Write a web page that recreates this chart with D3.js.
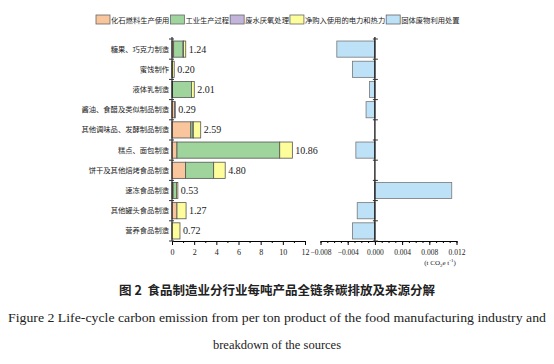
<!DOCTYPE html>
<html>
<head>
<meta charset="utf-8">
<script src="https://cdn.jsdelivr.net/npm/d3@7"></script>
<style>
body { margin: 0; background: #fff; }
svg text { fill: #222; }
.cn { font-family: "Noto Sans CJK SC", sans-serif; }
.en { font-family: "Liberation Serif", "DejaVu Serif", serif; }
</style>
</head>
<body>
<svg width="554" height="364"></svg>
<script>
// data
const categories = ["糖果、巧克力制造", "蜜饯制作", "液体乳制造", "酱油、食醋及类似制品制造", "其他调味品、发酵制品制造",
  "糕点、面包制造", "饼干及其他焙烤食品制造", "速冻食品制造", "其他罐头食品制造", "营养食品制造"];
const fossil  = [0.15, 0.02, 0.05, 0.25, 1.70, 0.45, 1.23, 0.10, 0.45, 0.00];
const process = [0.85, 0.00, 1.70, 0.00, 0.20, 9.27, 2.53, 0.30, 0.00, 0.00];
const wastewater = [0.04, 0.00, 0.00, 0.04, 0.02, 0.00, 0.00, 0.00, 0.00, 0.00];
const power   = [0.20, 0.18, 0.26, 0.00, 0.67, 1.14, 1.04, 0.13, 0.82, 0.72];
const solid   = [-0.0056, -0.0033, -0.0008, -0.0013, 0, -0.0028, 0, 0.0113, -0.0026, -0.0033];
const totals  = ["1.24", "0.20", "2.01", "0.29", "2.59", "10.86", "4.80", "0.53", "1.27", "0.72"];
const leftTicks = [0, 2, 4, 6, 8, 10, 12];
const rightTicks = [-0.008, -0.004, 0, 0.004, 0.008, 0.012];
const legendNames = ["化石燃料生产使用", "工业生产过程", "废水厌氧处理", "净购入使用的电力和热力", "固体废物利用处置"];
const colors = ["#f9c59c", "#9fd59d", "#c3b4dc", "#fdfd9b", "#bde2f8"];

const svg = d3.select("svg");
const plotTop = 39, plotBottom = 241;

let y = d3.scaleBand().domain(categories).range([plotTop, plotBottom]).paddingInner(0.2).paddingOuter(0.1);
let x1 = d3.scaleLinear().domain([0, 12]).range([172, 305]);
let x2 = d3.scaleLinear().domain([-0.008, 0.012]).range([320.5, 456.5]);

// stacked bars
const series = [fossil, process, wastewater, power];
categories.forEach((c, i) => {
  let acc = 0;
  series.forEach((s, k) => {
    if (s[i] > 0) {
      svg.append("rect")
        .attr("x", x1(acc)).attr("width", x1(acc + s[i]) - x1(acc))
        .attr("y", y(c)).attr("height", y.bandwidth())
        .attr("fill", colors[k]).attr("stroke", "#555").attr("stroke-width", 0.8);
    }
    acc += s[i];
  });
  svg.append("text").attr("class", "en")
    .attr("x", x1(acc) + 3).attr("y", y(c) + y.bandwidth() / 2 + 3.5)
    .attr("font-size", 10).text(totals[i]);
});

// left axes
svg.append("g").attr("transform", "translate(0," + plotBottom + ")")
  .call(d3.axisBottom(x1).tickValues(leftTicks).tickSize(4).tickSizeOuter(0))
  .call(g => g.selectAll("text").attr("class", "en").attr("font-size", 8).attr("dy", "0.9em"));
svg.append("g").attr("transform", "translate(0," + plotBottom + ")")
  .call(d3.axisBottom(x1).tickValues(d3.range(1, 12, 2)).tickSize(2).tickFormat(""))
  .call(g => g.select(".domain").remove());
svg.append("line").attr("x1", x1(0)).attr("x2", x1(0)).attr("y1", plotTop - 2).attr("y2", plotBottom).attr("stroke", "#000");

// category labels
svg.selectAll(".cat").data(categories).enter().append("text")
  .attr("class", "cn").attr("text-anchor", "end").attr("font-size", 7.3)
  .attr("x", x1(0) - 3).attr("y", d => y(d) + y.bandwidth() / 2 + 2.5)
  .text(d => d);

// band boundary ticks
const edges = categories.map(c => y(c) - y.step() * y.paddingInner() / 2).concat([plotBottom]);
svg.selectAll(".lt").data(edges).enter().append("line")
  .attr("x1", x1(0) - 3).attr("x2", x1(0) + 2).attr("y1", d => d).attr("y2", d => d).attr("stroke", "#333");

// right panel bars
svg.selectAll(".sb").data(categories.map((c, i) => [c, solid[i]]).filter(d => d[1] !== 0)).enter().append("rect")
  .attr("x", d => x2(Math.min(0, d[1]))).attr("width", d => Math.abs(x2(d[1]) - x2(0)))
  .attr("y", d => y(d[0])).attr("height", y.bandwidth())
  .attr("fill", colors[4]).attr("stroke", "#777").attr("stroke-width", 0.8);

svg.append("g").attr("transform", "translate(0," + plotBottom + ")")
  .call(d3.axisBottom(x2).tickValues(rightTicks).tickSize(4).tickSizeOuter(0).tickFormat(d3.format(".3f")))
  .call(g => g.selectAll("text").attr("class", "en").attr("font-size", 7.5).attr("dy", "0.9em"));
svg.append("g").attr("transform", "translate(0," + plotBottom + ")")
  .call(d3.axisBottom(x2).tickValues(d3.range(-0.008, 0.0121, 0.001)).tickSize(2).tickFormat(""))
  .call(g => g.select(".domain").remove());
svg.append("line").attr("x1", x2(0)).attr("x2", x2(0)).attr("y1", plotTop - 2).attr("y2", plotBottom).attr("stroke", "#000").attr("stroke-width", 1.2);
svg.selectAll(".rt").data(edges).enter().append("line")
  .attr("x1", x2(0) - 2).attr("x2", x2(0) + 3).attr("y1", d => d).attr("y2", d => d).attr("stroke", "#333");

const unit = svg.append("text").attr("class", "en").attr("x", 440).attr("y", 265).attr("font-size", 7).attr("text-anchor", "middle");
unit.append("tspan").text("(t CO");
unit.append("tspan").attr("font-size", 5).attr("dy", 2).text("2");
unit.append("tspan").attr("dy", -2).text("e t");
unit.append("tspan").attr("font-size", 5).attr("dy", -3).text("-1");
unit.append("tspan").attr("dy", 3).text(")");

// legend
let lx = 96;
legendNames.forEach((n, k) => {
  svg.append("rect").attr("x", lx).attr("y", 15).attr("width", 14).attr("height", 9)
    .attr("fill", colors[k]).attr("stroke", "#666").attr("stroke-width", 0.8);
  const t = svg.append("text").attr("class", "cn").attr("x", lx + 15).attr("y", 22.5).attr("font-size", 7.3).text(n);
  lx += 15 + t.node().getComputedTextLength() + 1;
});

// caption
svg.append("text").attr("class", "cn").attr("x", 277).attr("y", 295).attr("text-anchor", "middle")
  .attr("font-size", 12.5).attr("font-weight", "bold").text("图 2\u00a0\u00a0食品制造业分行业每吨产品全链条碳排放及来源分解");
svg.append("text").attr("class", "en").attr("x", 277).attr("y", 322).attr("text-anchor", "middle")
  .attr("font-size", 12.5).attr("textLength", 538).attr("lengthAdjust", "spacingAndGlyphs")
  .text("Figure 2 Life-cycle carbon emission from per ton product of the food manufacturing industry and");
svg.append("text").attr("class", "en").attr("x", 277).attr("y", 349).attr("text-anchor", "middle")
  .attr("font-size", 12.5).text("breakdown of the sources");
</script>
</body>
</html>
